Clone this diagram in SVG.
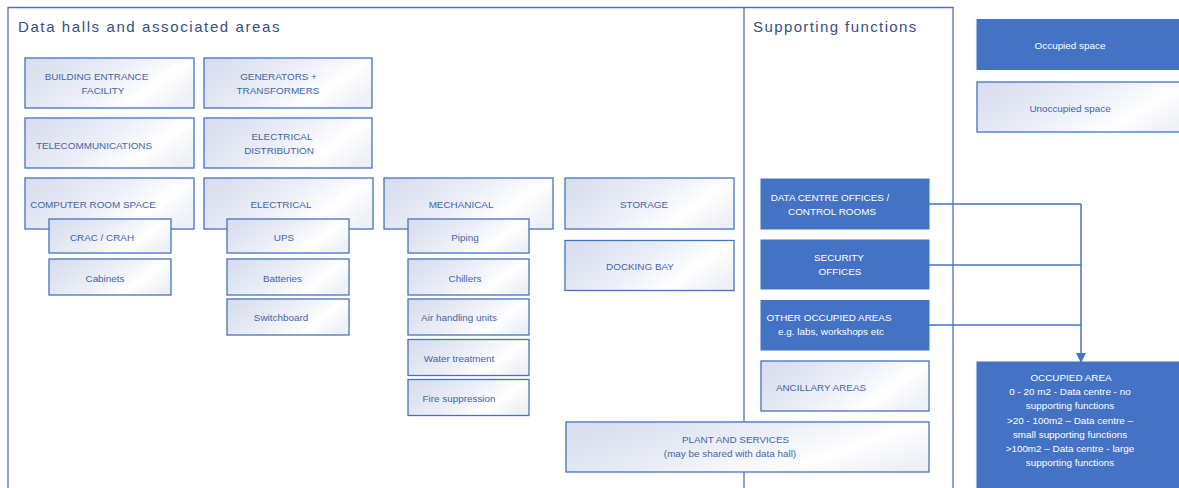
<svg xmlns="http://www.w3.org/2000/svg" width="1179" height="488" viewBox="0 0 1179 488">
<defs>
<linearGradient id="lg" x1="0" y1="0.3" x2="1" y2="0.7">
<stop offset="0" stop-color="#D9DFEE"/>
<stop offset="0.45" stop-color="#ECEFF7"/>
<stop offset="0.75" stop-color="#FFFFFF"/>
<stop offset="1" stop-color="#EEF0F7"/>
</linearGradient>
<marker id="arr" markerWidth="10" markerHeight="10" refX="9" refY="5" orient="auto" markerUnits="userSpaceOnUse">
<path d="M0,0 L10,5 L0,10 Z" fill="#4472C4"/>
</marker>
<style>
.area{fill:none;stroke:#4A72C0;stroke-width:1.3}
.lt{fill:url(#lg);stroke:#4472C4;stroke-width:1.3}
.dk{fill:#4472C4;stroke:#4472C4;stroke-width:1}
.t{font-family:"Liberation Sans",Arial,sans-serif;font-size:9.9px;fill:#4364A8;text-anchor:middle}
.w{font-family:"Liberation Sans",Arial,sans-serif;font-size:9.9px;fill:#FFFFFF;text-anchor:middle}
.h{font-family:"Liberation Sans",Arial,sans-serif;font-size:15px;fill:#34507F;letter-spacing:1.6px}
.c{fill:none;stroke:#4472C4;stroke-width:1.5}
</style>
</defs>
<rect width="1179" height="488" fill="#FFFFFF"/>

<g id="area-datahalls">
<path class="area" d="M8,500 V7.5 H744 V500"/>
<text class="h" x="18" y="31.5">Data halls and associated areas</text>
</g>
<g id="area-supporting">
<path class="area" d="M744,7.5 H953 V500"/>
<text class="h" x="753" y="31.5" style="letter-spacing:1.4px">Supporting functions</text>
</g>

<g id="legend-occupied"><rect class="dk" x="977" y="19.5" width="215" height="50"/><text class="w" x="1070" y="48.5">Occupied space</text></g>
<g id="legend-unoccupied"><rect class="lt" x="977" y="82" width="215" height="50"/><text class="t" x="1070" y="111.5">Unoccupied space</text></g>

<g id="building-entrance"><rect class="lt" x="25" y="58" width="169" height="50"/><text class="t" x="96.5" y="79.5">BUILDING ENTRANCE</text><text class="t" x="103" y="93.5">FACILITY</text></g>
<g id="generators"><rect class="lt" x="204" y="58" width="168" height="50"/><text class="t" x="278.5" y="79.5">GENERATORS +</text><text class="t" x="278" y="93.5">TRANSFORMERS</text></g>
<g id="telecom"><rect class="lt" x="25" y="118" width="169" height="50"/><text class="t" x="94" y="148.5">TELECOMMUNICATIONS</text></g>
<g id="elec-dist"><rect class="lt" x="204" y="118" width="168" height="50"/><text class="t" x="282" y="139.5">ELECTRICAL</text><text class="t" x="279" y="153.5">DISTRIBUTION</text></g>

<g id="computer-room"><rect class="lt" x="25" y="178" width="169" height="51"/><text class="t" x="93" y="207.5">COMPUTER ROOM SPACE</text></g>
<g id="crac"><rect class="lt" x="49" y="219" width="122" height="34"/><text class="t" x="102" y="240.5">CRAC / CRAH</text></g>
<g id="cabinets"><rect class="lt" x="49" y="259" width="122" height="36"/><text class="t" x="105" y="281.5">Cabinets</text></g>

<g id="electrical"><rect class="lt" x="204" y="178" width="169" height="51"/><text class="t" x="281" y="207.5">ELECTRICAL</text></g>
<g id="ups"><rect class="lt" x="227" y="219" width="122" height="34"/><text class="t" x="284" y="240.5">UPS</text></g>
<g id="batteries"><rect class="lt" x="227" y="259" width="122" height="36"/><text class="t" x="282.5" y="281.5">Batteries</text></g>
<g id="switchboard"><rect class="lt" x="227" y="299" width="122" height="36"/><text class="t" x="281" y="320.5">Switchboard</text></g>

<g id="mechanical"><rect class="lt" x="384" y="178" width="169" height="51"/><text class="t" x="461" y="207.5">MECHANICAL</text></g>
<g id="piping"><rect class="lt" x="408" y="219" width="121" height="34"/><text class="t" x="465" y="240.5">Piping</text></g>
<g id="chillers"><rect class="lt" x="408" y="259" width="121" height="36"/><text class="t" x="465" y="281.5">Chillers</text></g>
<g id="ahu"><rect class="lt" x="408" y="299" width="121" height="36"/><text class="t" x="459" y="320.5">Air handling units</text></g>
<g id="water"><rect class="lt" x="408" y="339.5" width="121" height="36"/><text class="t" x="459" y="361.5">Water treatment</text></g>
<g id="fire"><rect class="lt" x="408" y="379.5" width="121" height="36"/><text class="t" x="459" y="401.5">Fire suppression</text></g>

<g id="storage"><rect class="lt" x="565" y="178" width="169" height="51"/><text class="t" x="644" y="207.5">STORAGE</text></g>
<g id="docking"><rect class="lt" x="565" y="240.5" width="169" height="50"/><text class="t" x="640" y="269.5">DOCKING BAY</text></g>

<g id="offices"><rect class="dk" x="761" y="179" width="168" height="50"/><text class="w" x="830" y="200.5">DATA CENTRE OFFICES /</text><text class="w" x="832" y="214.5">CONTROL ROOMS</text></g>
<g id="security"><rect class="dk" x="761" y="240" width="168" height="49"/><text class="w" x="839" y="260.5">SECURITY</text><text class="w" x="840" y="274.5">OFFICES</text></g>
<g id="other-occupied"><rect class="dk" x="761" y="300.5" width="168" height="49.5"/><text class="w" x="829" y="320.5">OTHER OCCUPIED AREAS</text><text class="w" x="831" y="335">e.g. labs, workshops etc</text></g>
<g id="ancillary"><rect class="lt" x="761" y="361" width="168" height="50"/><text class="t" x="821" y="390.5">ANCILLARY AREAS</text></g>
<g id="plant"><rect class="lt" x="566" y="422" width="363" height="50"/><text class="t" x="735.5" y="443">PLANT AND SERVICES</text><text class="t" x="730" y="457">(may be shared with data hall)</text></g>

<g id="connectors">
<path class="c" d="M929,204 H1081"/>
<path class="c" d="M929,265 H1081"/>
<path class="c" d="M929,325 H1081"/>
<path class="c" d="M1081,204 V362" marker-end="url(#arr)"/>
</g>

<g id="occupied-area"><rect class="dk" x="977" y="362" width="215" height="140"/>
<text class="w" x="1071" y="380.5">OCCUPIED AREA</text>
<text class="w" x="1070" y="394.5">0 - 20 m2 - Data centre - no</text>
<text class="w" x="1070" y="409">supporting functions</text>
<text class="w" x="1070" y="423.5">&gt;20 - 100m2 – Data centre –</text>
<text class="w" x="1070" y="437.5">small supporting functions</text>
<text class="w" x="1070" y="451.5">&gt;100m2 – Data centre - large</text>
<text class="w" x="1070" y="465.5">supporting functions</text>
</g>
</svg>
